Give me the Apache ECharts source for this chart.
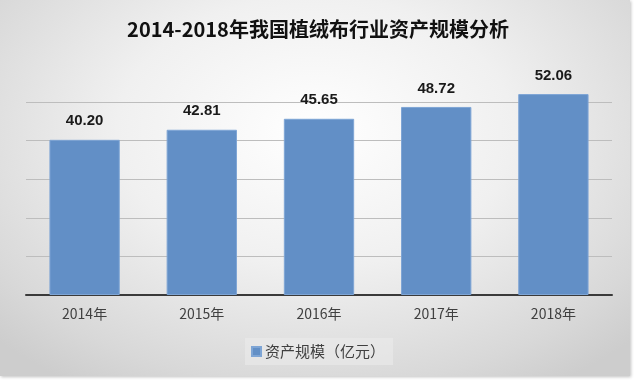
<!DOCTYPE html>
<html><head><meta charset="utf-8">
<script src="https://cdn.jsdelivr.net/npm/echarts@6/dist/echarts.min.js"></script>
<style>
html,body{margin:0;padding:0;background:#fff;}
#wrap{position:absolute;left:0;top:0;width:630px;height:376px;background:radial-gradient(ellipse 70% 80% at 50% 35%, #ffffff 0%, #f0f0f0 45%, #d8d8d8 85%, #cdcdcd 100%);box-shadow:1px 1px 3px #c0c0c0;}
#chart{width:636px;height:383px;position:absolute;left:0;top:0;}
</style></head>
<body><div id="wrap"></div><div id="chart"></div>
<script>
const categories = ['2014年','2015年','2016年','2017年','2018年'];
const assetValues = [40.20, 42.81, 45.65, 48.72, 52.06];
const seriesName = '资产规模（亿元）';
const titleText = '2014-2018年我国植绒布行业资产规模分析';

const chart = echarts.init(document.getElementById('chart'), null, {renderer:'canvas'});
chart.setOption({
  backgroundColor: 'transparent',
  animation: false,
  title: {
    text: titleText, left: 'center', top: 14,
    textStyle: {fontFamily: '"Noto Sans CJK SC", sans-serif', fontSize: 20, fontWeight: 'bold', color: '#111'}
  },
  legend: {
    data: [seriesName], bottom: 18, left: 'center',
    itemWidth: 9, itemHeight: 9, itemGap: 4,
    icon: 'rect',
    padding: [6, 8, 6, 6],
    backgroundColor: 'rgba(235,235,235,0.6)',
    textStyle: {fontFamily: '"Noto Sans CJK SC", sans-serif', fontSize: 15, color: '#404040', padding:[0,0,0,-1]}
  },
  grid: {left: 26, right: 24, top: 102, bottom: 88},
  xAxis: {
    type: 'category', data: categories,
    axisLine: {lineStyle: {color: '#3a3a3a', width: 2}},
    axisTick: {show: false},
    axisLabel: {fontFamily: '"Noto Sans CJK SC", sans-serif', fontSize: 14, color: '#404040', margin: 12}
  },
  yAxis: {
    type: 'value', min: 0, max: 50, interval: 10,
    axisLabel: {show: false}, axisLine: {show: false}, axisTick: {show: false},
    splitLine: {lineStyle: {color: '#bdbdbd', width: 1}}
  },
  series: [{
    name: seriesName, type: 'bar', data: assetValues, barWidth: '60%', clip: false,
    itemStyle: {color: '#628fc6', borderColor: '#7ea5d5', borderWidth: 1},
    label: {show: true, position: 'top', distance: 11, formatter: p => p.value.toFixed(2),
      fontFamily: '"Liberation Sans", sans-serif', fontSize: 15, fontWeight: 'bold', color: '#1a1a1a'}
  }]
});
</script></body></html>
